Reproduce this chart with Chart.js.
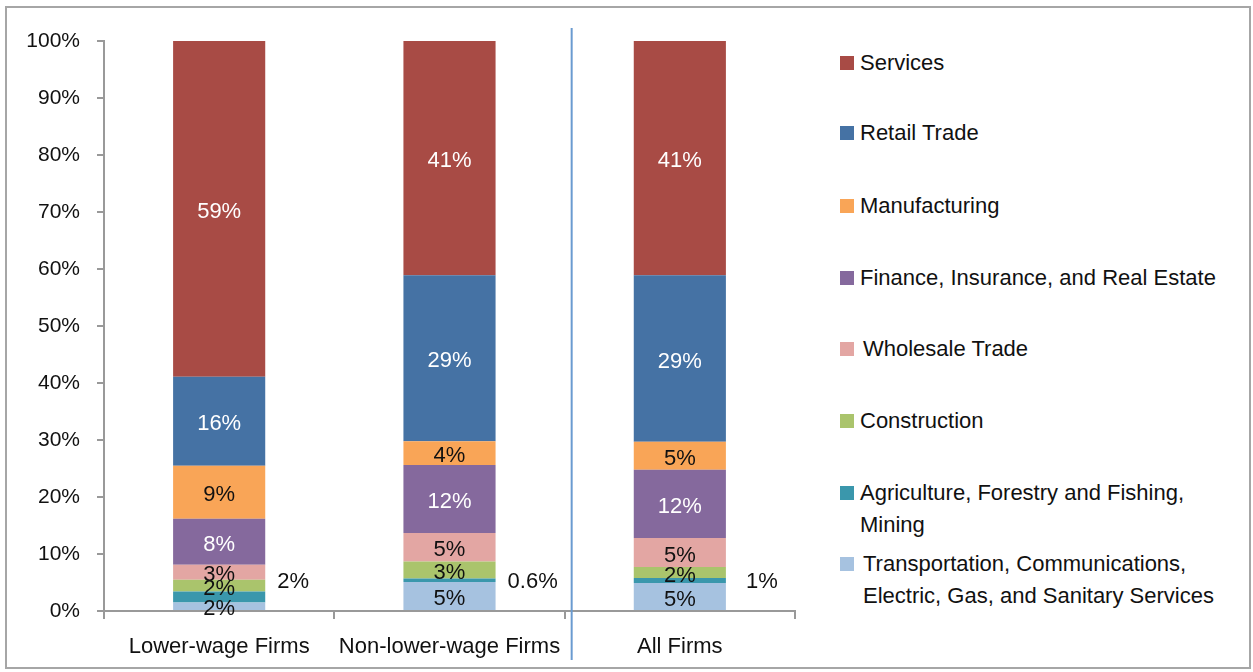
<!DOCTYPE html>
<html>
<head>
<meta charset="utf-8">
<script src="https://cdn.jsdelivr.net/npm/chart.js@4.4.1/dist/chart.umd.min.js"></script>
<style>
  html, body { margin: 0; padding: 0; background: #fff; }
  #frame { position: absolute; left: 5px; top: 6px; width: 1246px; height: 663px; border: 2px solid #a6a6a6; box-sizing: border-box; }
  #wrap { position: absolute; left: 0; top: 0; width: 815px; height: 672px; }
  #legend { position: absolute; left: 0; top: 0; }
  .item { position: absolute; left: 840px; font: 22px "Liberation Sans", Arial, sans-serif; color: #111; line-height: 32px; white-space: pre; }
  .box { position: absolute; left: 0; top: 9px; width: 14px; height: 14px; }
  .txt { position: absolute; left: 20px; top: 0; }
</style>
</head>
<body>
<div id="frame"></div>
<div id="wrap"><canvas id="chart"></canvas></div>
<div id="legend"></div>
<script>
const categories = ['Lower-wage Firms', 'Non-lower-wage Firms', 'All Firms'];

// stacked from the bottom up, shares in percent
const seriesNames = [
  'Transportation, Communications,\nElectric, Gas, and Sanitary Services',
  'Agriculture, Forestry and Fishing,\nMining',
  'Construction',
  'Wholesale Trade',
  'Finance, Insurance, and Real Estate',
  'Manufacturing',
  'Retail Trade',
  'Services'
];
const transportation = [1.5, 5.1, 4.9];
const agriculture    = [1.9, 0.6, 0.9];
const construction   = [2.1, 3.0, 1.9];
const wholesale      = [2.6, 5.0, 5.1];
const finance        = [8.1, 11.9, 12.0];
const manufacturing  = [9.3, 4.2, 4.9];
const retail         = [15.6, 29.1, 29.2];
const services       = [58.9, 41.1, 41.1];

// labels as printed on the bars
const labelText = [
  ['2%', '5%', '5%'],
  ['2%', '0.6%', '1%'],
  ['2%', '3%', '2%'],
  ['3%', '5%', '5%'],
  ['8%', '12%', '12%'],
  ['9%', '4%', '5%'],
  ['16%', '29%', '29%'],
  ['59%', '41%', '41%']
];
const yTicks = [0, 10, 20, 30, 40, 50, 60, 70, 80, 90, 100];

const colors = ['#A6C2E0', '#3A97AC', '#AAC46C', '#E3A6A3', '#85699D', '#F9A557', '#4572A4', '#A84B45'];
const textColors = ['#111', '#111', '#111', '#111', '#fff', '#111', '#fff', '#fff'];
const allValues = [transportation, agriculture, construction, wholesale, finance, manufacturing, retail, services];

const FONT = '"Liberation Sans", Arial, sans-serif';

const barLabels = {
  id: 'barLabels',
  afterDatasetsDraw(chart) {
    const c = chart.ctx;
    const sideY = chart.scales.y.getPixelForValue(5.5);
    c.save();
    c.font = '22px ' + FONT;
    c.textBaseline = 'middle';
    chart.data.datasets.forEach((ds, di) => {
      const meta = chart.getDatasetMeta(di);
      meta.data.forEach((bar, i) => {
        const yMid = (bar.y + bar.base) / 2;
        if (di === 1) {
          // agriculture is too thin for a label, it goes beside the bar
          c.fillStyle = '#111';
          c.textAlign = 'left';
          c.fillText(labelText[di][i], bar.x + bar.width / 2 + 12 + (i === 2 ? 8 : 0), sideY + 2);
        } else {
          c.fillStyle = textColors[di];
          c.textAlign = 'center';
          c.fillText(labelText[di][i], bar.x, yMid + 3);
        }
      });
    });
    c.restore();
  }
};

const separator = {
  id: 'separator',
  afterDraw(chart) {
    const x = chart.scales.x;
    const c = chart.ctx;
    const px = (x.getPixelForValue(1) + x.getPixelForValue(2)) / 2 + 7;
    c.save();
    c.strokeStyle = '#6A9BD0';
    c.lineWidth = 2;
    c.beginPath();
    c.moveTo(px, 28);
    c.lineTo(px, 660);
    c.stroke();
    c.restore();
  }
};

const chart = new Chart(document.getElementById('chart'), {
  type: 'bar',
  data: {
    labels: categories,
    datasets: seriesNames.map((name, i) => ({
      label: name,
      data: allValues[i],
      backgroundColor: colors[i],
      borderWidth: 0,
      categoryPercentage: 1,
      barPercentage: 0.4
    }))
  },
  options: {
    responsive: true, maintainAspectRatio: false, animation: false,
    layout: { padding: { left: 10, right: 20, top: 41, bottom: 0 } },
    plugins: { legend: { display: false }, tooltip: { enabled: false } },
    scales: {
      x: {
        stacked: true,
        border: { color: '#999', width: 2 },
        grid: { display: true, drawOnChartArea: false, offset: true, tickLength: 8, color: '#999', lineWidth: 2 },
        ticks: { color: '#111', font: { family: FONT, size: 22 }, padding: 15, maxRotation: 0 },
        afterFit: s => { s.height = 61; }
      },
      y: {
        stacked: true, min: 0, max: 100,
        border: { color: '#999', width: 2 },
        grid: { display: true, drawOnChartArea: false, tickLength: 7, color: '#999', lineWidth: 2 },
        afterBuildTicks: s => { s.ticks = yTicks.map(v => ({ value: v })); },
        ticks: { color: '#111', font: { family: FONT, size: 21 }, padding: 17, callback: v => v + '%' },
        afterFit: s => { s.width = 94; }
      }
    }
  },
  plugins: [barLabels, separator]
});

// legend, top item is the top of the stack
const legendTops = [63, 133, 206, 278, 349, 421, 493, 564];
const legendShift = [0, 0, 0, 0, 3, 0, 0, 3];
const legend = document.getElementById('legend');
chart.data.datasets.slice().reverse().forEach((ds, k) => {
  const item = document.createElement('div');
  item.className = 'item';
  item.style.top = (legendTops[k] - 16) + 'px';
  item.innerHTML = `<div class="box" style="background:${ds.backgroundColor}"></div><div class="txt"></div>`;
  const txt = item.querySelector('.txt');
  txt.textContent = ds.label;
  txt.style.left = (20 + legendShift[k]) + 'px';
  legend.appendChild(item);
});
</script>
</body>
</html>
